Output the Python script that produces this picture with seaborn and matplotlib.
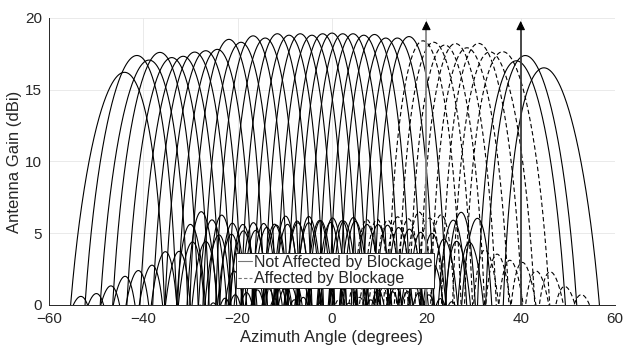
import numpy as np
import pandas as pd
import matplotlib
matplotlib.use("Agg")
import matplotlib.pyplot as plt
import seaborn as sns
from matplotlib.lines import Line2D

# ---- data ----
# steering angle (deg) and peak gain (dBi) of each beam
solid_angles = [-45.0, -42.2, -39.5, -37.1, -34.5, -32.0, -29.5, -27.1, -24.6, -22.1,
                -19.5, -16.9, -14.3, -11.7, -9.2, -6.8, -4.3, -2.0, 0.0, 2.3,
                4.5, 6.8, 9.1, 11.5, 14.0, 16.5, 39.8, 41.8, 46.0]
solid_peaks = [16.1, 17.3, 17.0, 17.55, 17.2, 17.3, 17.6, 17.7, 17.8, 18.5,
               18.3, 18.75, 18.6, 18.9, 18.8, 18.9, 18.8, 18.9, 18.95, 18.9,
               18.9, 18.8, 18.85, 18.6, 18.6, 18.7, 16.95, 17.3, 16.4]
blocked_angles = [19.5, 21.8, 24.2, 26.5, 29.0, 31.5, 34.0, 36.8]
blocked_peaks = [18.4, 18.3, 18.1, 18.2, 17.9, 18.2, 17.6, 17.6]
arrow_x = [20, 40]
arrow_top = 19.8
legend_labels = ["Not Affected by Blockage", "Affected by Blockage"]

# ---- beam rendering (uniform 14-element array, half-wavelength spacing) ----
N_EL = 14
theta = np.linspace(-60, 60, 4801)

def beam(angle, peak):
    u = np.sin(np.radians(theta))
    ui = np.sin(np.radians(angle))
    psi = np.pi * (u - ui)
    den = N_EL * np.sin(psi / 2)
    small = np.abs(den) < 1e-12
    af = np.where(small, 1.0, np.sin(N_EL * psi / 2) / np.where(small, 1, den))
    g = peak + 20 * np.log10(np.abs(af) + 1e-6)
    g += 30 * np.log10(np.cos(np.radians(theta)) / np.cos(np.radians(angle)))
    return np.maximum(g, -40)

rows = []
k = 0
for a, p in zip(solid_angles, solid_peaks):
    rows.append(pd.DataFrame({"angle": theta, "gain": beam(a, p), "beam": k, "status": "ok"}))
    k += 1
for a, p in zip(blocked_angles, blocked_peaks):
    rows.append(pd.DataFrame({"angle": theta, "gain": beam(a, p), "beam": k, "status": "blocked"}))
    k += 1
df = pd.concat(rows, ignore_index=True)

sns.set_theme(style="white")
plt.rcParams["font.family"] = ["Liberation Sans", "DejaVu Sans"]

fig = plt.figure(figsize=(6.24, 3.46), dpi=100)
ax = fig.add_axes([0.0785, 0.1185, 0.9071, 0.8295])

sns.lineplot(data=df, x="angle", y="gain", units="beam", estimator=None,
             style="status", style_order=["ok", "blocked"],
             dashes={"ok": "", "blocked": (4, 2.5)},
             color="black", linewidth=0.8, legend=False, ax=ax, sort=False)

for xa, c in zip(arrow_x, ["#8a8a8a", "#3a3a3a"]):
    ax.plot([xa, xa], [0, arrow_top - 0.4], color=c, lw=1.3, solid_capstyle="butt")
    ax.annotate("", xy=(xa, arrow_top), xytext=(xa, arrow_top - 0.45),
                arrowprops=dict(arrowstyle="-|>,head_length=0.45,head_width=0.22",
                                color="black", lw=0.8, shrinkA=0, shrinkB=0))

ax.set_xlim(-60, 60)
ax.set_ylim(0, 20)
ax.set_xticks([-60, -40, -20, 0, 20, 40, 60])
ax.set_yticks([0, 5, 10, 15, 20])
ax.grid(True, color="#e6e6e6", linewidth=0.6)
ax.set_axisbelow(True)
for s in ["top", "right"]:
    ax.spines[s].set_visible(False)
for s in ["left", "bottom"]:
    ax.spines[s].set_color("#262626")
    ax.spines[s].set_linewidth(0.7)
ax.tick_params(direction="in", length=3, width=0.6, color="#262626",
               labelsize=11, labelcolor="#262626", pad=5)
ax.set_xlabel("Azimuth Angle (degrees)", fontsize=12, color="#262626", labelpad=3)
ax.set_ylabel("Antenna Gain (dBi)", fontsize=12, color="#262626", labelpad=2)

handles = [Line2D([0], [0], color="#777777", lw=0.8, ls="-"),
           Line2D([0], [0], color="#777777", lw=0.8, ls=(0, (3, 2)))]
leg = ax.legend(handles, legend_labels, loc="lower left", bbox_to_anchor=(0.33, 0.059),
                fontsize=11.5, handlelength=0.9, handletextpad=0.1, borderpad=0.12,
                labelspacing=0.1, borderaxespad=0, fancybox=False, framealpha=1,
                edgecolor="#262626")
leg.get_frame().set_linewidth(0.7)

fig.savefig("out.png", dpi=100)
